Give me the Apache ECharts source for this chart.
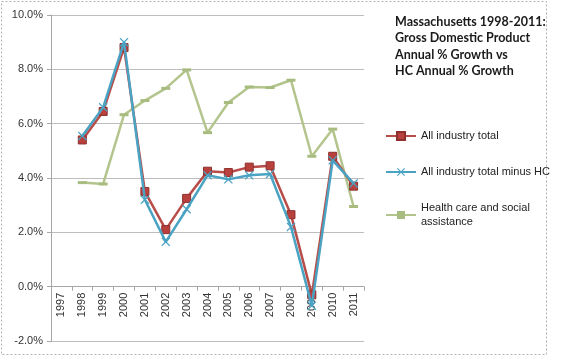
<!DOCTYPE html>
<html><head><meta charset="utf-8">
<script src="https://cdn.jsdelivr.net/npm/echarts@6/dist/echarts.min.js"></script>
<style>html,body{margin:0;padding:0;background:#fff}#c{width:570px;height:363px}</style>
</head><body><div id="c"></div>
<script>
const years = ['1997','1998','1999','2000','2001','2002','2003','2004','2005','2006','2007','2008','2009','2010','2011'];
const allIndustry = [null,5.4,6.45,8.8,3.5,2.1,3.25,4.25,4.2,4.4,4.45,2.65,-0.3,4.8,3.7];
const allMinusHC = [null,5.55,6.6,9.0,3.2,1.65,2.85,4.1,3.95,4.1,4.15,2.2,-0.7,4.65,3.8];
const healthCare = [null,3.83,3.78,6.33,6.85,7.3,7.98,5.67,6.78,7.35,7.33,7.6,4.8,5.8,2.95];
const seriesNames = ['All industry total','All industry total minus HC','Health care and social assistance'];
const titleLines = ['Massachusetts 1998-2011:','Gross Domestic Product','Annual % Growth vs','HC Annual % Growth'];

const chart = echarts.init(document.getElementById('c'), null, {renderer:'canvas'});
const xShape = 'path://M0,1 L1,0 L5,4 L9,0 L10,1 L6,5 L10,9 L9,10 L5,6 L1,10 L0,9 L4,5 Z';
const gridTop = 15, gridBottom = 22, H = 363;
const yMin = -2, yMax = 10;
const zeroOffset = (H - gridTop - gridBottom) * (0 - yMin) / (yMax - yMin);
chart.setOption({
  animation:false,
  textStyle:{fontFamily:'Liberation Sans'},
  title:{
    text: titleLines.join('\n'),
    left:390, top:9,
    textStyle:{fontSize:12.5, fontWeight:'bold', color:'#1a1a1a', lineHeight:16.3, fontFamily:'Lato'}
  },
  graphic:[{type:'rect', shape:{x:1.5,y:1.5,width:545,height:353}, style:{fill:null, stroke:'#b0b0b0', lineWidth:1, lineDash:[2,2]}}],
  legend:{
    orient:'vertical', left:380, top:124, itemGap:22, itemWidth:30, itemHeight:10,
    textStyle:{fontSize:11, color:'#222', lineHeight:14, fontFamily:'Liberation Sans'},
    formatter: n => n==='Health care and social assistance' ? 'Health care and social\nassistance' : n,
    data: seriesNames
  },
  grid:{left:51, right:206, top:gridTop, bottom:gridBottom},
  xAxis:{
    type:'category', data:years, boundaryGap:true, position:'bottom', offset:-zeroOffset,
    axisLine:{onZero:false, lineStyle:{color:'#a6a6a6', width:1}},
    axisTick:{show:true, length:4, lineStyle:{color:'#a6a6a6'}},
    axisLabel:{rotate:90, fontSize:11, color:'#333', margin:6, fontFamily:'Liberation Sans'}
  },
  yAxis:{
    type:'value', min:yMin, max:yMax, interval:2,
    axisLine:{show:true, lineStyle:{color:'#a6a6a6'}},
    axisTick:{show:true, length:4, lineStyle:{color:'#a6a6a6'}},
    axisLabel:{formatter: v => v.toFixed(1)+'%', fontSize:11, color:'#333', margin:8, fontFamily:'Liberation Sans'},
    splitLine:{show:true, lineStyle:{color:'#bdbdbd', width:1}}
  },
  series:[
    {name:seriesNames[0], type:'line', data:allIndustry, symbol:'rect', symbolSize:8, z:3,
     lineStyle:{color:'#B84C49', width:2.5}, itemStyle:{color:'#B8403D', borderColor:'#8E2F2D', borderWidth:1}},
    {name:seriesNames[1], type:'line', data:allMinusHC, symbol:xShape, symbolSize:9, z:4,
     lineStyle:{color:'#4BA3C3', width:2.5}, itemStyle:{color:'#4BA3C3'}},
    {name:seriesNames[2], type:'line', data:healthCare, symbol:'path://M0,0 H10 V2 H0 Z', symbolSize:[9,3], z:2,
     lineStyle:{color:'#B3C58C', width:2.5}, itemStyle:{color:'#A9BC80'}}
  ]
});
</script></body></html>
